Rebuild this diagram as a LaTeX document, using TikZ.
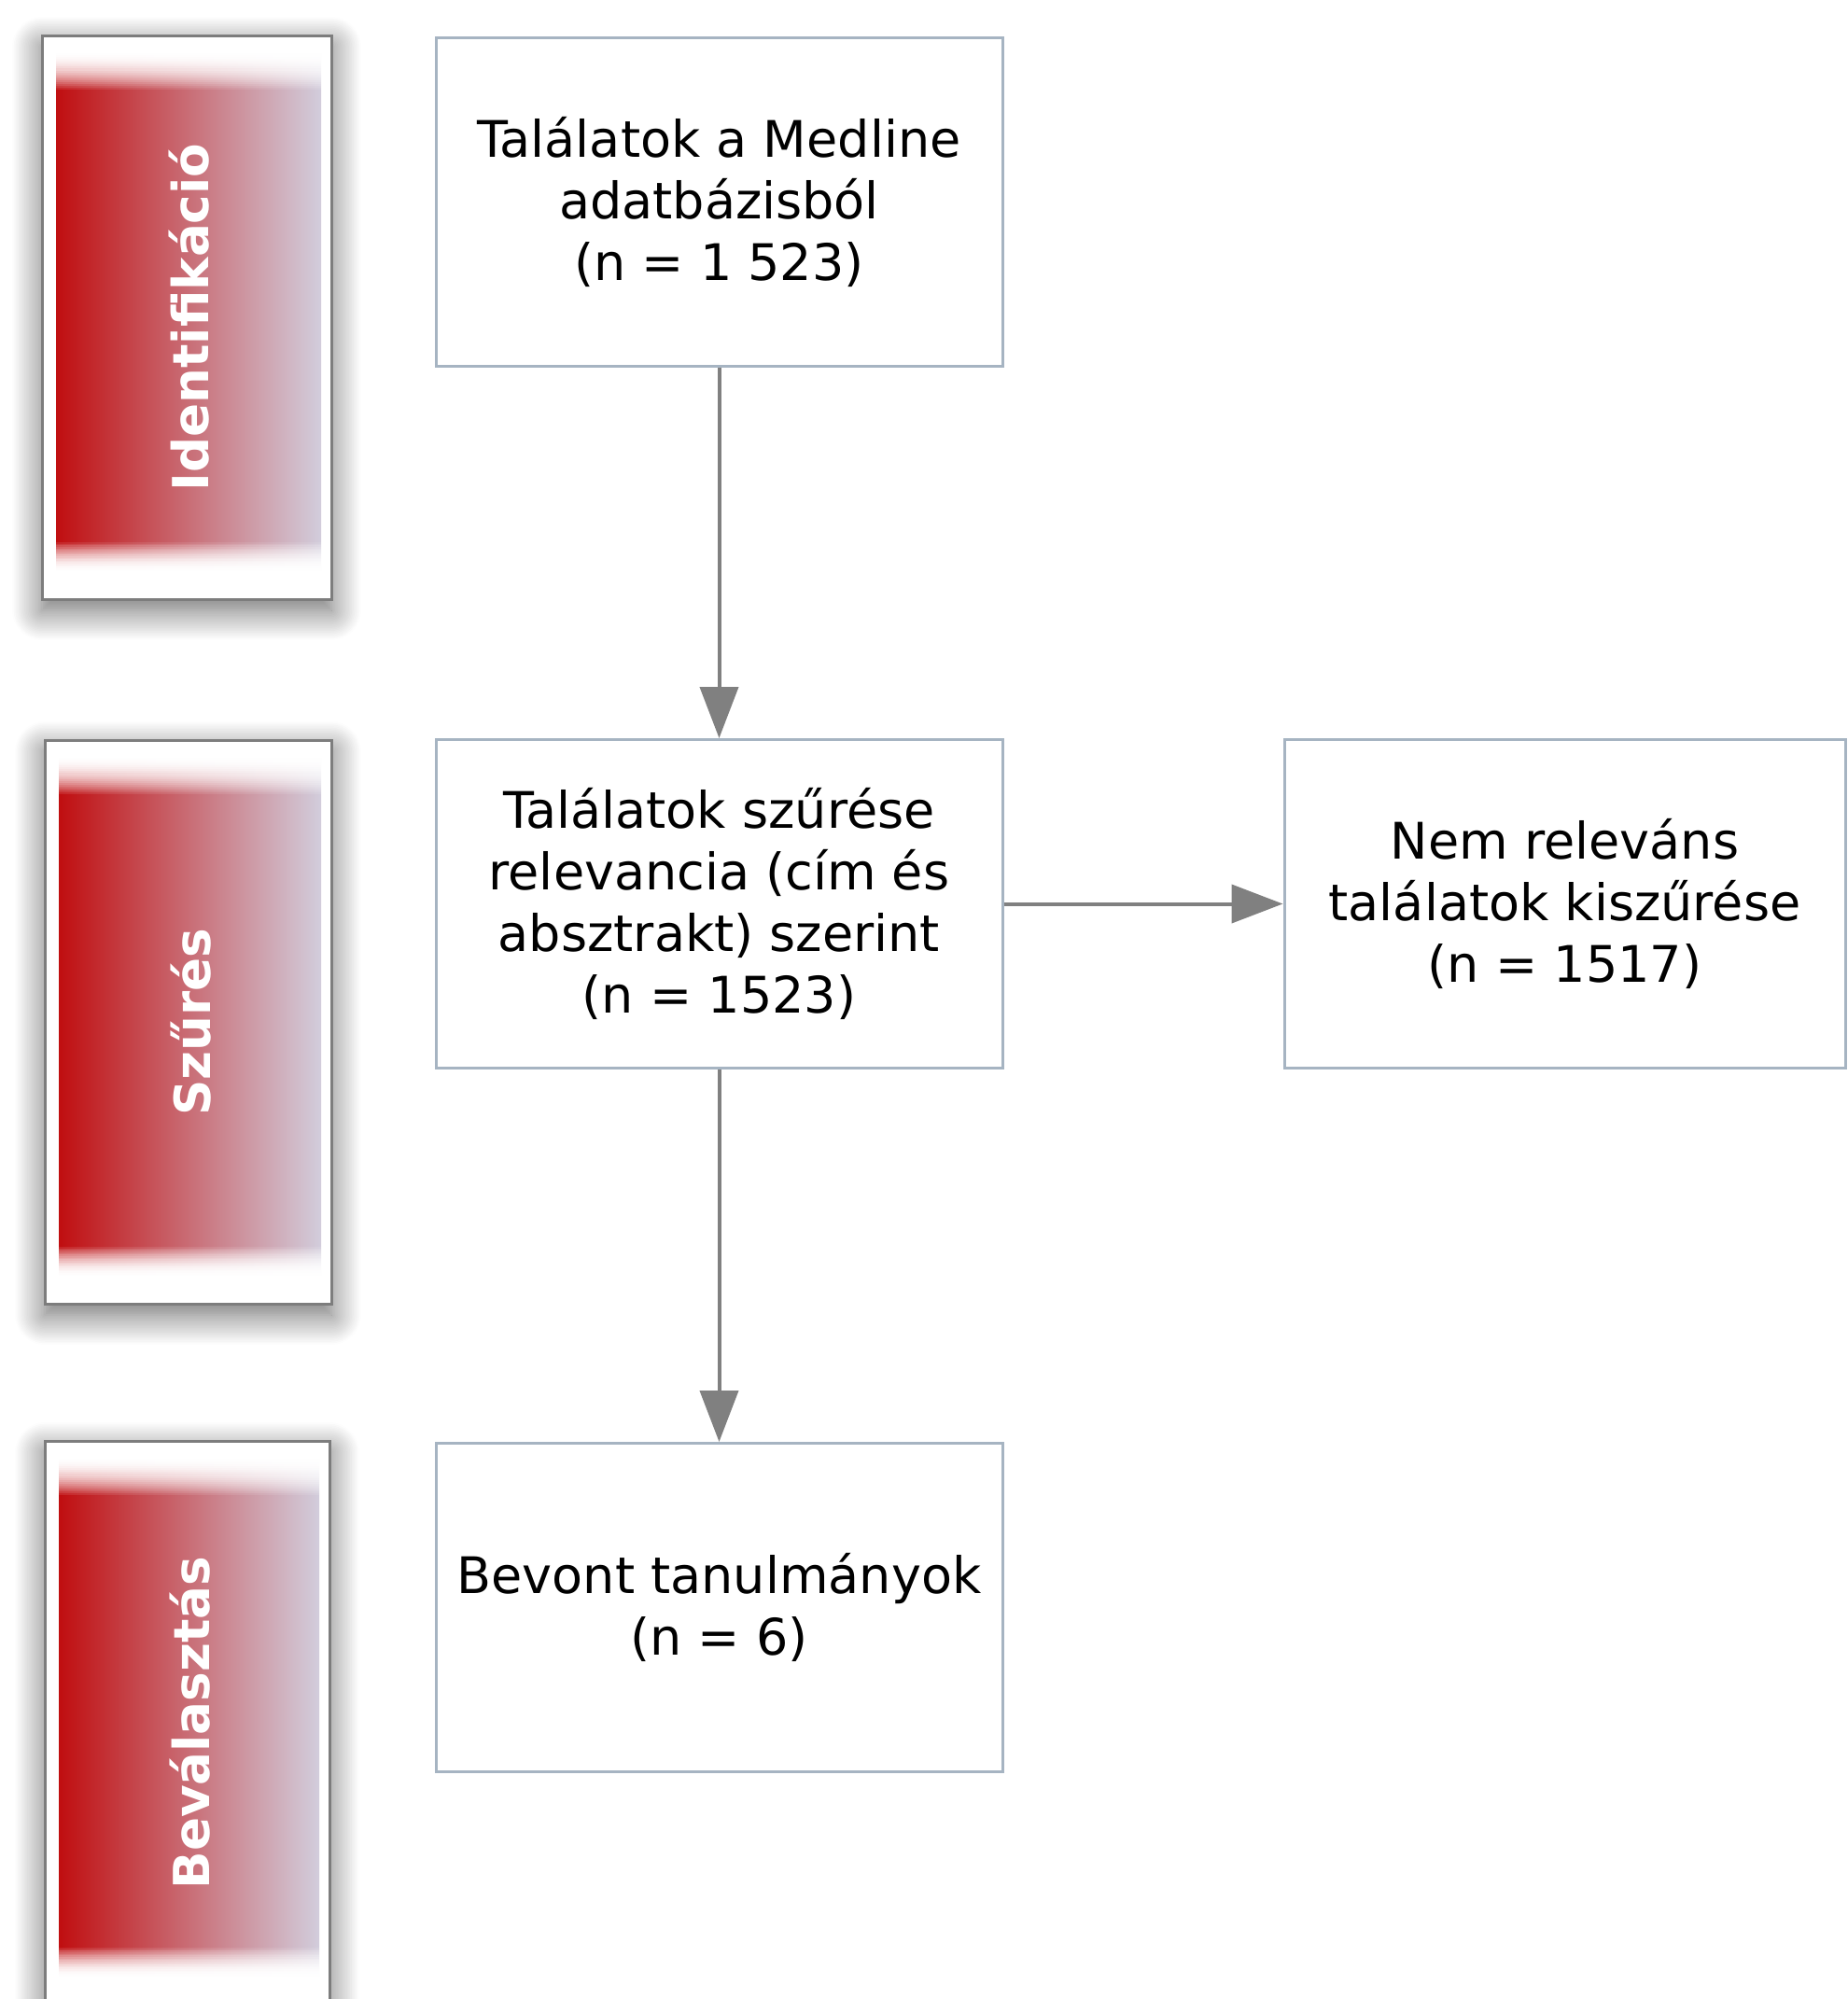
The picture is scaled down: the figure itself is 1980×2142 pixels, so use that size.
\documentclass[tikz,border=0pt]{standalone}
\usepackage{fontspec}
\setmainfont{DejaVu Sans}
\usetikzlibrary{arrows.meta,shadows.blur}
\definecolor{redL}{RGB}{192,14,16}
\definecolor{lavR}{RGB}{210,205,220}
\definecolor{boxB}{RGB}{166,180,194}
\definecolor{arrG}{RGB}{128,128,128}
\definecolor{sideB}{RGB}{125,125,125}
\tikzset{
  flowbox/.style={draw=boxB, line width=1.5pt, fill=white, align=center,
    minimum width=303.5pt, minimum height=176pt, inner sep=0pt,
    font=\fontsize{27}{33}\selectfont},
  sideouter/.style={draw=sideB, line width=1.5pt, fill=white, inner sep=0pt,
    blur shadow={shadow xshift=0pt, shadow yshift=-6pt, shadow blur radius=16pt,
      shadow blur steps=20, shadow opacity=60}},
  sidelabel/.style={text=white, rotate=90, font=\bfseries\fontsize{26.6}{30}\selectfont, inner sep=0pt},
  flowarrow/.style={draw=arrG, line width=2pt, -{Triangle[length=27.5pt,width=20.5pt]}}
}
% #1 name, #2 left, #3 top, #4 right, #5 bottom, #6 label
\newcommand\mysidebox[6]{%
  \node[sideouter, minimum width={(#4-#2)*0.5pt}, minimum height={(#5-#3)*0.5pt}]
     (#1) at ({(#2+#4)/2},{(#3+#5)/2}) {};
  \shade[left color=redL, right color=lavR] (#2+15,#3+16) rectangle (#4-11,#5-27);
  \fill[white] (#2+14,#3+14) rectangle (#4-10,#3+17);
  \fill[white] (#2+14,#5-28) rectangle (#4-10,#5-25);
  \foreach \i in {0,...,19}{
    \fill[white, opacity={1-(\i/20)^2}] (#2+14,{#3+17+\i*2.05}) rectangle (#4-10,{#3+17+(\i+1)*2.05});
    \fill[white, opacity={1-(\i/20)^2}] (#2+14,{#5-28-\i*1.65}) rectangle (#4-10,{#5-28-(\i+1)*1.65});
  }
  \node[sidelabel] (#1l) at ({(#2+#4)/2+3},{(#3+#5)/2}) {#6};
}
\begin{document}
\begin{tikzpicture}[x=0.5pt,y=-0.5pt]
\useasboundingbox (0,0) rectangle (1980,2142);
\clip (0,0) rectangle (1980,2142);

\mysidebox{s1}{45}{38}{355}{642}{Identifikáció}
\mysidebox{s2}{48}{793}{355}{1397}{Szűrés}
\mysidebox{s3}{48}{1544}{353}{2148}{Beválasztás}

\node[flowbox] (b1) at (770.5,216) {Találatok a Medline\\adatbázisból\\(n = 1 523)};
\node[flowbox] (b2) at (770.5,968.5) {Találatok szűrése\\relevancia (cím és\\absztrakt) szerint\\(n = 1523)};
\node[flowbox, minimum width=300.5pt] (b3) at (1676.5,968.5) {Nem releváns\\találatok kiszűrése\\(n = 1517)};
\node[flowbox] (b4) at (770.5,1722.5) {Bevont tanulmányok\\(n = 6)};

\draw[flowarrow] (b1.south) -- (b2.north);
\draw[flowarrow] (b2.east) -- (b3.west);
\draw[flowarrow] (b2.south) -- (b4.north);
\end{tikzpicture}
\end{document}
